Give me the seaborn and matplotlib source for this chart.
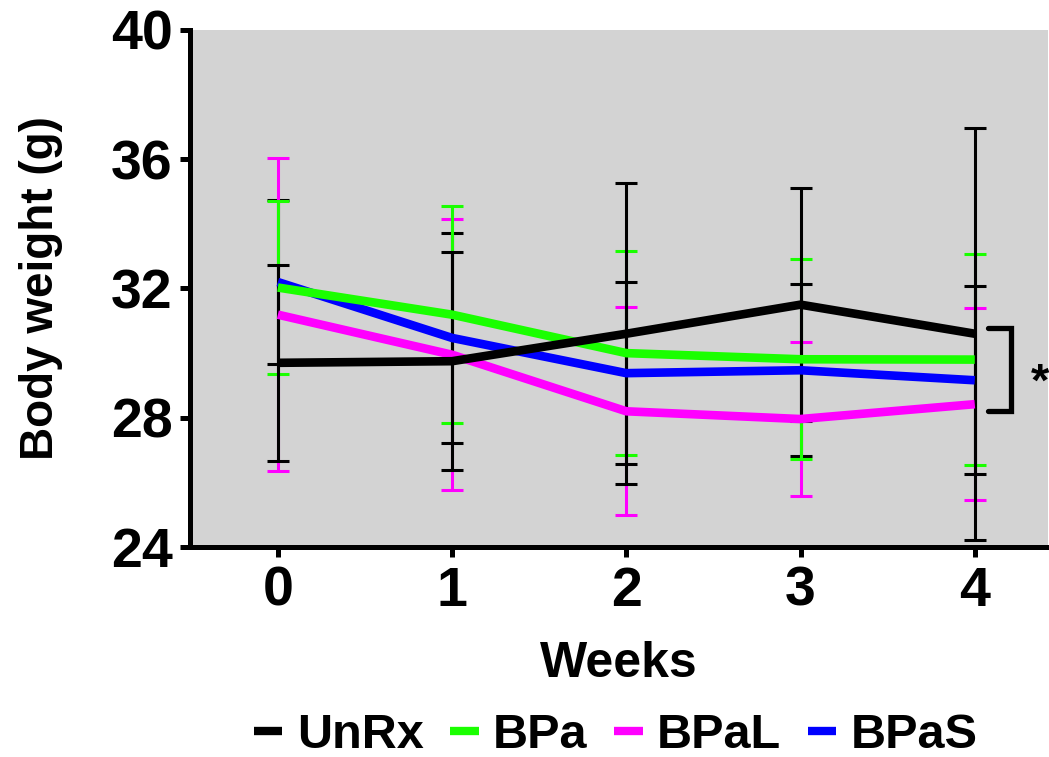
import matplotlib
matplotlib.use("Agg")
import matplotlib.pyplot as plt
import seaborn as sns
import pandas as pd
from matplotlib.lines import Line2D

# Body weight over time, mean ± SD per treatment group
weeks = [0, 1, 2, 3, 4]
groups = ["UnRx", "BPa", "BPaL", "BPaS"]

unrx_mean = [29.70, 29.75, 30.60, 31.50, 30.60]
unrx_sd = [3.03, 3.38, 4.66, 3.61, 6.38]
bpa_mean = [32.03, 31.19, 30.00, 29.81, 29.80]
bpa_sd = [2.69, 3.36, 3.16, 3.09, 3.27]
bpal_mean = [31.19, 29.95, 28.20, 27.96, 28.42]
bpal_sd = [4.85, 4.20, 3.22, 2.39, 2.97]
bpas_mean = [32.20, 30.47, 29.38, 29.47, 29.16]
bpas_sd = [2.54, 3.24, 2.82, 2.66, 2.91]

y_ticks = [24, 28, 32, 36, 40]

means = {"UnRx": unrx_mean, "BPa": bpa_mean, "BPaL": bpal_mean, "BPaS": bpas_mean}
sds = {"UnRx": unrx_sd, "BPa": bpa_sd, "BPaL": bpal_sd, "BPaS": bpas_sd}

palette = {"UnRx": "#000000", "BPa": "#1aff00", "BPaL": "#ff00ff", "BPaS": "#0000ff"}
# error bar colours (the BPaS bars are drawn in black)
err_colors = {"UnRx": "#000000", "BPa": "#1aff00", "BPaL": "#ff00ff", "BPaS": "#000000"}

df = pd.DataFrame(
    [{"Weeks": w, "Weight": m, "Group": g}
     for g in groups for w, m in zip(weeks, means[g])]
)

sns.set_theme(style="ticks")
plt.rcParams["font.family"] = ["Liberation Sans", "DejaVu Sans"]
plt.rcParams["font.weight"] = "bold"
for key in ["text.color", "axes.labelcolor", "xtick.color", "ytick.color",
            "axes.edgecolor"]:
    plt.rcParams[key] = "black"

fig = plt.figure(figsize=(10.49, 7.57), dpi=100)
ax = fig.add_axes([0.181, 0.2774, 0.818, 0.6830])
ax.set_facecolor("#d3d3d3")

# error bars underneath the mean lines
for g in ["BPaS", "BPaL", "BPa", "UnRx"]:
    ax.errorbar(weeks, means[g], yerr=sds[g], fmt="none",
                ecolor=err_colors[g], elinewidth=2.2, capsize=7.6,
                capthick=2.2, zorder=2)

sns.lineplot(data=df, x="Weeks", y="Weight", hue="Group",
             hue_order=["BPaL", "BPaS", "BPa", "UnRx"], palette=palette,
             linewidth=6.2, solid_capstyle="butt", ax=ax, legend=False,
             zorder=3)

ax.set_xlim(-0.505, 4.42)
ax.set_ylim(24, 40)
ax.set_xticks(weeks)
ax.set_yticks(y_ticks)
ax.tick_params(axis="both", labelsize=40, width=3.6, length=7.5,
               color="black", labelcolor="black")
ax.tick_params(axis="y", pad=5)
ax.tick_params(axis="x", pad=6)
for lab in ax.get_xticklabels() + ax.get_yticklabels():
    lab.set_fontweight("bold")

for side in ["top", "right"]:
    ax.spines[side].set_visible(False)
for side in ["left", "bottom"]:
    ax.spines[side].set_linewidth(3.6)
    ax.spines[side].set_color("black")

ax.set_xlabel("Weeks", fontsize=36, fontweight="bold")
ax.set_ylabel("Body weight (g)", fontsize=33, fontweight="bold")
ax.xaxis.set_label_coords(0.5, -0.182)
ax.yaxis.set_label_coords(-0.148, 0.5)

# significance bracket between UnRx and BPaL at week 4
bx0, bx1 = 4.075, 4.21
by0, by1 = 28.22, 30.78
ax.plot([bx0, bx1, bx1, bx0], [by1, by1, by0, by0], color="black",
        linewidth=3.8, solid_joinstyle="miter", clip_on=False, zorder=4)
ax.text(4.375, 29.05, "*", fontsize=34, fontweight="bold", ha="center",
        va="center", clip_on=False)

handles = [Line2D([0], [0], color=palette[g], linewidth=6,
                  solid_capstyle="butt") for g in groups]
fig.legend(handles, groups, loc="center", ncol=4,
           bbox_to_anchor=(616 / 1049, 1 - 736 / 757), frameon=False,
           prop={"size": 35, "weight": "bold"}, handlelength=0.58,
           handletextpad=0.3, columnspacing=0.55, borderpad=0.1)

fig.savefig("out.png", dpi=100)
